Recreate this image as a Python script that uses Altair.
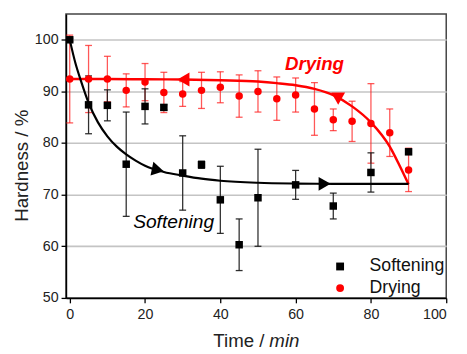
import altair as alt
import pandas as pd

# ---------------- data ----------------
soft_x = [0, 5, 10, 15, 20, 25, 30, 35, 40, 45, 50, 60, 70, 80, 90]
soft_y = [100.0, 87.4, 87.3, 75.9, 87.1, 86.9, 74.2, 75.8, 69.0, 60.3, 69.4, 71.9, 67.8, 74.3, 78.3]
soft_err = [0.3, 5.6, 3.0, 10.1, 3.4, 0.5, 7.2, 0.7, 6.5, 5.0, 9.4, 2.8, 2.5, 3.8, 0.5]

dry_x = [0, 5, 10, 15, 20, 25, 30, 35, 40, 45, 50, 55, 60, 65, 70, 75, 80, 85, 90]
dry_y = [92.4, 92.4, 92.4, 90.2, 91.8, 89.8, 89.5, 90.2, 90.8, 89.1, 90.0, 88.6, 89.3, 86.6, 84.5, 84.2, 83.8, 82.0, 74.8]
dry_err = [8.5, 6.5, 4.4, 3.2, 3.6, 3.9, 2.4, 3.5, 3.0, 4.1, 4.0, 4.2, 3.3, 5.1, 2.1, 3.9, 7.7, 4.6, 4.2]

# fitted guide curves (traced)
soft_curve_x = [0, 1.5, 3, 5, 7.5, 10, 12.5, 15, 17.5, 20, 25, 30, 35, 40, 50, 60, 70, 80, 90]
soft_curve_y = [100, 95.5, 92, 87.8, 84, 81.3, 79.3, 77.8, 76.6, 75.6, 74.4, 73.7, 73.1, 72.7, 72.3, 72.15, 72.1, 72.1, 72.1]
dry_curve_x = [0, 10, 20, 30, 40, 50, 55, 60, 65, 70, 75, 80, 85, 87.5, 90]
dry_curve_y = [92.4, 92.4, 92.35, 92.3, 92.15, 91.9, 91.6, 91.2, 90.5, 89.3, 87.1, 84.0, 79.3, 75.8, 72.0]

# arrow heads on the curves
soft_arrow_x = [23.4, 67.7]
soft_arrow_y = [74.8, 72.1]
dry_arrow_left_x = [30.2]
dry_arrow_left_y = [92.3]
dry_arrow_down_x = [71.3]
dry_arrow_down_y = [88.6]

series_names = ["Softening", "Drying"]
series_colors = ["#000000", "#ff0000"]
series_shapes = ["square", "circle"]

label_text = ["Drying", "Softening"]
label_x = [65.0, 27.6]
label_y = [94.2, 63.6]

x_ticks = [0, 10, 20, 30, 40, 50, 60, 70, 80, 90, 100]
y_ticks = [50, 55, 60, 65, 70, 75, 80, 85, 90, 95, 100, 105]

FONT = "Liberation Sans"

# ---------------- tables ----------------
soft = pd.DataFrame({"x": soft_x, "y": soft_y, "err": soft_err, "series": "Softening"})
dry = pd.DataFrame({"x": dry_x, "y": dry_y, "err": dry_err, "series": "Drying"})
for d in (soft, dry):
    d["lo"] = d["y"] - d["err"]
    d["hi"] = d["y"] + d["err"]
pts = pd.concat([dry, soft], ignore_index=True)


def caps(d):
    return pd.concat([
        pd.DataFrame({"x": d["x"], "v": d["lo"]}),
        pd.DataFrame({"x": d["x"], "v": d["hi"]}),
    ], ignore_index=True)


xscale = alt.Scale(domain=[-1, 100], nice=False, zero=False)
yscale = alt.Scale(domain=[50, 105], nice=False, zero=False)

xaxis = alt.Axis(
    values=x_ticks,
    labelExpr="datum.value % 20 == 0 ? datum.label : ''",
    title=None, grid=False,
    tickSize={"condition": {"test": "datum.value % 20 == 0", "value": 5}, "value": 4},
    tickColor="#000", tickWidth=1.3,
    domainColor="#000", domainWidth=1.5,
    labelFont=FONT, labelFontSize=14.5, labelColor="#222", labelPadding=5,
)
yaxis = alt.Axis(
    values=y_ticks,
    labelExpr="(datum.value % 10 == 0 && datum.value <= 100) ? datum.label : ''",
    title="Hardness / %",
    titleFont=FONT, titleFontSize=19, titleFontWeight="normal", titleColor="#222",
    titleX=-45, titleY=154, titleAlign="center", titleBaseline="middle",
    grid=True, gridColor="#c4c4c4", gridWidth=1.6,
    gridOpacity={"condition": {"test": "datum.value % 10 == 0 && datum.value > 50 && datum.value < 105", "value": 1}, "value": 0},
    tickSize={"condition": {"test": "datum.value % 10 == 0", "value": 5}, "value": 3.5},
    tickColor="#000", tickWidth=1.3,
    domainColor="#000", domainWidth=1.5,
    labelFont=FONT, labelFontSize=14.5, labelColor="#222", labelPadding=3,
)

X = alt.X("x:Q", scale=xscale, axis=xaxis)
Y = alt.Y("y:Q", scale=yscale, axis=yaxis)

base_axes = alt.Chart(pts).mark_point(opacity=0).encode(X, Y)


def errbars(d, color, opacity):
    rule = alt.Chart(d).mark_rule(color=color, strokeWidth=1.3, opacity=opacity).encode(
        x=alt.X("x:Q", scale=xscale),
        y=alt.Y("lo:Q", scale=yscale),
        y2="hi:Q",
    )
    cap = alt.Chart(caps(d)).mark_tick(color=color, orient="horizontal", size=7, thickness=1.3, opacity=opacity).encode(
        x=alt.X("x:Q", scale=xscale),
        y=alt.Y("v:Q", scale=yscale),
    )
    return rule + cap


dry_err_layer = errbars(dry, "#ff2020", 0.75)
soft_err_layer = errbars(soft, "#1a1a1a", 0.9)

leg = alt.Legend(orient="none", legendX=270, legendY=248, title=None,
                 symbolSize=64, labelFont=FONT, labelFontSize=18,
                 labelColor="#111", labelOffset=21, rowPadding=4,
                 padding=0, symbolStrokeWidth=0)

points = alt.Chart(pts).mark_point(filled=True, size=58, opacity=1).encode(
    x=alt.X("x:Q", scale=xscale),
    y=alt.Y("y:Q", scale=yscale),
    color=alt.Color("series:N", scale=alt.Scale(domain=series_names, range=series_colors), legend=leg),
    shape=alt.Shape("series:N", scale=alt.Scale(domain=series_names, range=series_shapes), legend=leg),
    order=alt.Order("series:N", sort="ascending"),
)

soft_curve = alt.Chart(pd.DataFrame({"x": soft_curve_x, "y": soft_curve_y})).mark_line(
    color="#000", strokeWidth=2.2, interpolate="monotone").encode(
    x=alt.X("x:Q", scale=xscale), y=alt.Y("y:Q", scale=yscale))
dry_curve = alt.Chart(pd.DataFrame({"x": dry_curve_x, "y": dry_curve_y})).mark_line(
    color="#ff0000", strokeWidth=2.5, interpolate="monotone").encode(
    x=alt.X("x:Q", scale=xscale), y=alt.Y("y:Q", scale=yscale))

soft_arrows = alt.Chart(pd.DataFrame({"x": soft_arrow_x, "y": soft_arrow_y, "a": [12, 0]})).mark_point(
    shape="triangle-right", filled=True, size=200, color="#000", opacity=1).encode(
    x=alt.X("x:Q", scale=xscale), y=alt.Y("y:Q", scale=yscale), angle=alt.Angle("a:Q", scale=None))
dry_arrow_l = alt.Chart(pd.DataFrame({"x": dry_arrow_left_x, "y": dry_arrow_left_y})).mark_point(
    shape="triangle-left", filled=True, size=200, color="#ff0000", opacity=1).encode(
    x=alt.X("x:Q", scale=xscale), y=alt.Y("y:Q", scale=yscale))
dry_arrow_d = alt.Chart(pd.DataFrame({"x": dry_arrow_down_x, "y": dry_arrow_down_y})).mark_point(
    shape="triangle-down", filled=True, size=200, color="#ff0000", opacity=1).encode(
    x=alt.X("x:Q", scale=xscale), y=alt.Y("y:Q", scale=yscale))

labels = pd.DataFrame({"t": label_text, "x": label_x, "y": label_y})
drying_lbl = alt.Chart(labels[labels.t == "Drying"]).mark_text(
    font=FONT, fontSize=19, fontStyle="italic", fontWeight="bold", color="#ff0000",
    align="center", baseline="alphabetic").encode(
    x=alt.X("x:Q", scale=xscale), y=alt.Y("y:Q", scale=yscale), text="t:N")
soft_lbl = alt.Chart(labels[labels.t == "Softening"]).mark_text(
    font=FONT, fontSize=19.5, fontStyle="italic", color="#000",
    align="center", baseline="alphabetic").encode(
    x=alt.X("x:Q", scale=xscale), y=alt.Y("y:Q", scale=yscale), text="t:N")

one = pd.DataFrame({"k": [0]})
xt1 = alt.Chart(one).mark_text(font=FONT, fontSize=19, color="#222", align="right",
                               baseline="alphabetic").encode(
    x=alt.value(202), y=alt.value(339), text=alt.value("Time /"))
xt2 = alt.Chart(one).mark_text(font=FONT, fontSize=19, fontStyle="italic", color="#222",
                               align="left", baseline="alphabetic").encode(
    x=alt.value(207), y=alt.value(339), text=alt.value("min"))

chart = alt.layer(
    base_axes, dry_err_layer, soft_err_layer, points,
    dry_curve, soft_curve, soft_arrows, dry_arrow_l, dry_arrow_d,
    drying_lbl, soft_lbl, xt1, xt2,
).properties(
    width=387, height=289,
    autosize=alt.AutoSizeParams(type="none"),
    padding={"left": 59, "top": 3, "right": 13, "bottom": 54},
).configure_view(stroke="#444", strokeWidth=1.5)

chart.save("out.html", embed_options={"renderer": "svg", "actions": False})
